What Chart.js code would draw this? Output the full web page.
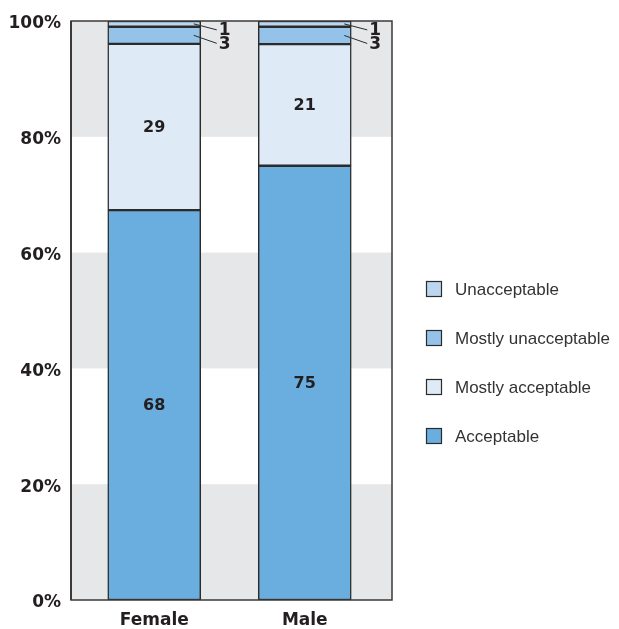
<!DOCTYPE html>
<html>
<head>
<meta charset="utf-8">
<script src="https://cdn.jsdelivr.net/npm/chart.js@4"></script>
<style>
  html, body { margin: 0; padding: 0; background: #ffffff; }
  #wrap { width: 619px; height: 629px; }
</style>
</head>
<body>
<div id="wrap"><canvas id="c" width="619" height="629"></canvas></div>
<script>
// Survey answers by gender (percent of respondents)
const categories = ['Female', 'Male'];
const seriesNames = ['Acceptable', 'Mostly acceptable', 'Mostly unacceptable', 'Unacceptable'];
const acceptable = [68, 75];
const mostlyAcceptable = [29, 21];
const mostlyUnacceptable = [3, 3];
const unacceptable = [1, 1];
const yTicks = [0, 20, 40, 60, 80, 100];

const seriesValues = [acceptable, mostlyAcceptable, mostlyUnacceptable, unacceptable];
const seriesColors = ['#6aaddf', '#deeaf6', '#95c2e8', '#bcd6ef'];
// small segments get their value outside the bar, on a leader line
const leaderDrop = [null, null, 8, 6];

// each bar is scaled so its parts fill 100%
const totals = categories.map((_, i) => seriesValues.reduce((s, arr) => s + arr[i], 0));

const INK = '#231f20';
const BOLD = "'DejaVu Sans', Verdana, sans-serif";
const PLAIN = "'Liberation Sans', Arial, sans-serif";

const datasets = seriesNames.map((name, k) => ({
  label: name,
  data: seriesValues[k].map((v, i) => v / totals[i] * 100),
  raw: seriesValues[k],
  backgroundColor: seriesColors[k],
  borderColor: '#2b2b2b',
  borderWidth: 1.5,
  borderSkipped: false,
  barThickness: 93
}));

// frame sits slightly wider than the category band
const FRAME_PAD_LEFT = 8, FRAME_PAD_RIGHT = 12;

const bandsAndFrame = {
  id: 'bandsAndFrame',
  beforeDatasetsDraw(chart) {
    const { ctx, chartArea: a, scales: { y } } = chart;
    const l = a.left - FRAME_PAD_LEFT, r = a.right + FRAME_PAD_RIGHT;
    ctx.save();
    ctx.fillStyle = '#e6e7e8';
    for (let i = 0; i < yTicks.length - 1; i += 2) {
      const top = y.getPixelForValue(yTicks[i + 1]);
      const bot = y.getPixelForValue(yTicks[i]);
      ctx.fillRect(l, top, r - l, bot - top);
    }
    ctx.restore();
  },
  afterDatasetsDraw(chart) {
    const { ctx, chartArea: a } = chart;
    const l = a.left - FRAME_PAD_LEFT, r = a.right + FRAME_PAD_RIGHT;
    ctx.save();
    ctx.strokeStyle = '#3a3a3a';
    ctx.lineWidth = 1.5;
    ctx.strokeRect(l, a.top, r - l, a.bottom - a.top);
    ctx.lineWidth = 2;
    ctx.beginPath();
    ctx.moveTo(l, a.top);
    ctx.lineTo(l, a.bottom);
    ctx.stroke();

    // value labels
    ctx.fillStyle = INK;
    ctx.strokeStyle = '#2b2b2b';
    chart.data.datasets.forEach((ds, k) => {
      const meta = chart.getDatasetMeta(k);
      meta.data.forEach((bar, i) => {
        const p = bar.getProps(['x', 'y', 'base', 'width'], true);
        const cy = (p.y + p.base) / 2;
        const txt = String(ds.raw[i]);
        if (leaderDrop[k] === null) {
          ctx.font = 'bold 16px ' + BOLD;
          ctx.textAlign = 'center';
          ctx.textBaseline = 'middle';
          ctx.fillText(txt, p.x, cy + 1);
        } else {
          const right = p.x + p.width / 2;
          const drop = leaderDrop[k];
          const x0 = right - 7, x1 = right + 16;
          ctx.lineWidth = 1;
          ctx.beginPath();
          ctx.moveTo(x0, cy);
          ctx.lineTo(x1, cy + drop);
          ctx.stroke();
          ctx.font = 'bold 17px ' + BOLD;
          ctx.textAlign = 'left';
          ctx.textBaseline = 'middle';
          ctx.fillText(txt, x1 + 2, cy + drop + 1);
        }
      });
    });
    ctx.restore();
  },
  afterDraw(chart) {
    // legend, top item = top segment
    const { ctx } = chart;
    ctx.save();
    ctx.font = '17px ' + PLAIN;
    ctx.textBaseline = 'middle';
    ctx.textAlign = 'left';
    const order = chart.data.datasets.map((d, k) => k).reverse();
    order.forEach((k, j) => {
      const ds = chart.data.datasets[k];
      const cy = 289 + j * 49;
      ctx.fillStyle = ds.backgroundColor;
      ctx.fillRect(426, cy - 8, 16, 16);
      ctx.strokeStyle = '#2b2b2b';
      ctx.lineWidth = 1.2;
      ctx.strokeRect(426.5, cy - 7.5, 15, 15);
      ctx.fillStyle = '#333333';
      ctx.fillText(ds.label, 455, cy + 1);
    });
    ctx.restore();
  }
};

new Chart(document.getElementById('c'), {
  type: 'bar',
  data: { labels: categories, datasets },
  options: {
    responsive: false,
    animation: false,
    layout: { padding: { top: 21, right: 239, bottom: 0, left: 0 } },
    plugins: { legend: { display: false }, tooltip: { enabled: false } },
    scales: {
      x: {
        stacked: true,
        grid: { display: false, drawTicks: false },
        border: { display: false },
        afterFit: s => { s.height = 29; s.paddingLeft = 0; s.paddingRight = 0; },
        ticks: {
          padding: 10,
          color: INK,
          font: { family: BOLD, size: 17, weight: 'bold' }
        }
      },
      y: {
        stacked: true,
        min: 0,
        max: 100,
        grid: { display: false, drawTicks: false },
        border: { display: false },
        afterBuildTicks: s => { s.ticks = yTicks.map(v => ({ value: v })); },
        afterFit: s => { s.width = 79; s.paddingTop = 0; s.paddingBottom = 0; },
        ticks: {
          padding: 18,
          labelOffset: 3,
          color: INK,
          font: { family: BOLD, size: 17, weight: 'bold' },
          callback: v => v + '%'
        }
      }
    }
  },
  plugins: [bandsAndFrame]
});
</script>
</body>
</html>
